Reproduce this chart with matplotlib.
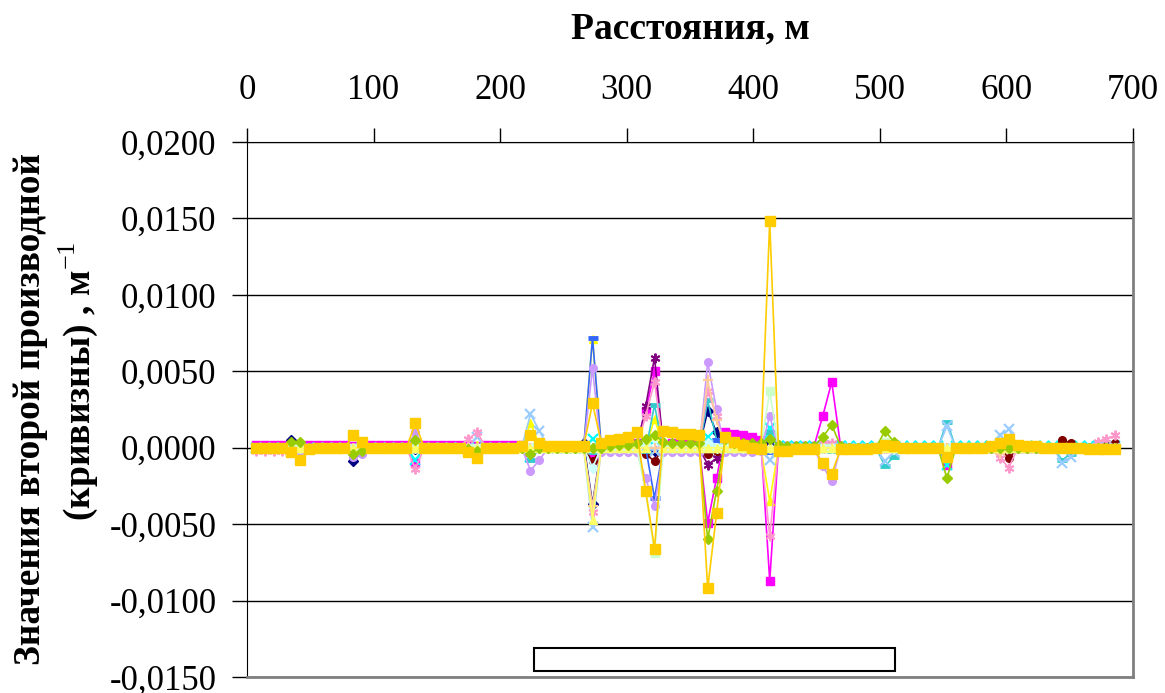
import numpy as np
import matplotlib
matplotlib.use("Agg")
import matplotlib.pyplot as plt
from matplotlib.patches import Rectangle

plt.rcParams['font.family'] = ['Liberation Serif', 'DejaVu Serif']
plt.rcParams['mathtext.fontset'] = 'custom'
plt.rcParams['mathtext.rm'] = 'Liberation Serif'
plt.rcParams['mathtext.bf'] = 'Liberation Serif:bold'

# расстояния вдоль профиля, м (шаг 7 м)
distances = [7 * (i + 1) for i in range(98)]

# значения второй производной, единицы 1e-4 м^-1 (по 14 точек в строке)
s_navy = [1, 1, 1, 1, 5, 2, 1, 1, 1, 1, 1, -9, -2, 1,
          1, 1, 1, 1, -1, 1, 1, 1, 1, 1, 1, 0, 1, 1,
          1, 1, 1, -2, 0, 1, 1, 1, 1, 3, -37, 1, 0, 0,
          0, 0, 0, -2, 0, 0, 0, 0, 0, 24, 10, 0, 0, 0,
          0, 0, 3, 0, 0, 0, 0, 0, 0, 0, 0, 0, 0, 0,
          0, 0, 0, 0, 0, 0, 0, 0, 0, 0, 0, 0, 0, 0,
          0, 0, 0, 0, 0, 0, 0, 0, 0, 0, 0, 0, 0, 0]
s_magenta = [2, 2, 2, 2, 2, 1, 2, 2, 2, 2, 2, 1, 2, 2,
             2, 2, 2, 2, -10, 2, 2, 2, 2, 2, 2, 1, 2, 2,
             2, 2, 2, -3, 1, 1, 1, 1, 1, 1, -5, 1, 2, 3,
             3, 3, 24, 50, 2, 3, 3, 3, 3, -49, -20, 10, 9, 8,
             7, 5, -87, 1, 1, 1, 1, 1, 21, 43, 1, 0, 0, 0,
             0, 0, 0, 0, 0, 0, 0, 0, -11, 0, 0, 0, 0, 0,
             0, 0, 0, 0, 0, 0, 0, 0, 0, 0, 0, 0, 0, 0]
s_yellow = [0, 0, 0, 0, 0, 0, 0, 0, 0, 0, 0, 0, 0, 0,
            0, 0, 0, 0, 0, 0, 0, 0, 0, 0, 0, 2, 0, 0,
            0, 0, 0, 16, 2, 0, 0, 0, 0, 0, 71, 0, 0, 0,
            0, 0, 0, 19, 0, 0, 0, 0, 0, 3, 0, 0, 0, 0,
            0, 0, -35, 0, 0, 0, 0, 0, 0, 0, 0, 0, 0, 0,
            0, 0, 0, 0, 0, 0, 0, 0, 0, 0, 0, 0, 0, 0,
            0, 0, 0, 0, 0, 0, 0, 0, 0, 0, 0, 0, 0, 0]
s_cyan = [0, 0, 0, 0, 0, 0, 0, 0, 0, 0, 0, 0, 0, 0,
          0, 0, 0, 0, -8, 0, 0, 0, 0, 0, 0, 0, 0, 0,
          0, 0, 0, -6, 0, 0, 0, 0, 0, 0, 6, 0, 0, 0,
          0, 0, 0, 5, 0, 0, 0, 0, 0, 7, 0, 0, 0, 0,
          0, 0, 13, 1, 1, 1, 1, 1, 1, 1, 1, 1, 1, 1,
          1, 1, 1, 1, 1, 1, 1, 1, -11, 1, 1, 1, 1, 1,
          1, 1, 1, 1, 1, 1, 1, 1, 1, 1, 1, 1, 1, 1]
s_purple = [0, 0, 0, 0, 0, 0, 0, 0, 0, 0, 0, 0, 0, 0,
            0, 0, 0, 0, 0, 0, 0, 0, 0, 0, 0, 0, 0, 0,
            0, 0, 0, 0, 0, 0, 0, 0, 0, 0, 0, 0, 0, 0,
            0, 0, 27, 59, 0, 0, 0, 0, 0, -11, -7, 0, 0, 0,
            0, 0, 0, 0, 0, 0, 0, 0, 0, 0, 0, 0, 0, 0,
            0, 0, 0, 0, 0, 0, 0, 0, 0, 0, 0, 0, 0, 0,
            0, 0, 0, 0, 0, 0, 0, 0, 0, 0, 0, 0, 0, 0]
s_maroon = [0, 0, 0, 0, 0, 0, 0, 0, 0, 0, 0, 0, 0, 0,
            0, 0, 0, 0, 0, 0, 0, 0, 0, 0, 0, 0, 0, 0,
            0, 0, 0, 0, 0, 0, 0, 0, 0, 0, -9, 0, 0, 0,
            0, 0, -4, -9, 0, 0, 0, 0, 0, -4, -2, 0, 0, 0,
            0, 0, 0, 0, 0, 0, 0, 0, 0, 0, 0, 0, 0, 0,
            0, 0, 0, 0, 0, 0, 0, 0, 0, 0, 0, 0, 0, 0,
            0, -7, 0, 0, 0, 0, 0, 5, 3, 0, 0, 1, 1, 3]
s_teal = [0, 0, 0, 0, 0, -1, 0, 0, 0, 0, 0, 0, 0, 0,
          0, 0, 0, 0, 2, 0, 0, 0, 0, 0, 0, 0, 0, 0,
          0, 0, 0, -8, -1, -1, -1, -1, -1, -1, -3, -2, -2, -2,
          -2, -2, -2, 28, -2, -2, -2, -2, -2, 31, 5, -2, -2, -2,
          -2, -2, 10, -1, -1, -1, -1, -1, -1, -2, 0, 0, 0, 0,
          0, -12, -6, 0, 0, 0, 0, 0, 17, 0, 0, 0, 0, 0,
          0, 2, 0, 0, 0, 0, 0, -8, -4, 0, 0, 0, 0, 0]
s_blue = [0, 0, 0, 0, 0, 0, 0, 0, 0, 0, 0, 0, 0, 0,
          0, 0, 0, 0, 0, 0, 0, 0, 0, 0, 0, 0, 0, 0,
          0, 0, 0, -3, 0, 0, 0, 0, 0, 0, 72, 0, 0, 0,
          0, 0, 0, -33, 0, -1, -1, -1, -1, 0, 5, -1, -1, -1,
          -1, -1, -3, 0, 0, 0, 0, 0, 0, 0, 0, 0, 0, 0,
          0, 2, 0, 0, 0, 0, 0, 0, 1, 0, 0, 0, 0, 0,
          0, 0, 0, 0, 0, 0, 0, 0, 0, 0, 0, 0, 0, 0]
s_lightblue = [0, 0, 0, 0, 0, 0, 0, 0, 0, 0, 0, 0, 0, 0,
               0, 0, 0, 0, 0, 0, 0, 0, 0, 0, 0, 7, 0, 0,
               0, 0, 0, 22, 11, 0, 0, 0, 0, 0, -52, 0, 0, 0,
               0, 0, 0, -2, 0, 0, 0, 0, 0, 2, 0, 0, 0, 0,
               0, 0, -8, 0, 0, 0, 0, 0, 0, 0, 0, 0, 0, 0,
               0, -9, -3, 0, 0, 0, 0, 0, 14, 0, 0, 0, 0, 0,
               8, 12, 0, 0, 0, 0, 0, -10, -6, 0, 0, 0, 0, 0]
s_pink = [-2, -2, -2, -2, -1, -1, -1, 0, 0, 0, 0, 0, 0, 0,
          0, 0, 0, 0, -14, 0, 0, 0, 0, 0, 6, 10, 0, 0,
          0, 0, 0, 0, 0, 0, 0, 0, 0, 0, -42, 0, 0, 0,
          0, 0, 21, 43, 0, 0, 0, 0, 0, 37, 21, 0, 0, 0,
          0, 0, -58, 0, 0, 0, 0, 0, 3, 3, 0, 0, 0, 0,
          0, 0, 0, 0, 0, 0, 0, 0, 0, 0, 0, 0, 0, 0,
          -7, -13, 0, 0, 0, 0, 0, 0, 0, 0, 0, 4, 6, 8]
s_lilac = [0, 0, 0, 0, -1, -2, 0, 0, 0, 0, 0, -6, -4, 0,
           0, 0, 0, 0, 10, 0, 0, 0, 0, 0, 0, 0, 0, 0,
           0, 0, 0, -15, -8, 0, 0, 0, 0, 0, 52, -3, -3, -3,
           -3, -3, -20, -38, -3, -3, -3, -3, -3, 56, 25, -3, -3, -3,
           -3, -2, 21, -1, -1, -1, -1, -1, -12, -22, 0, 0, 0, 0,
           0, 0, 0, 0, 0, 0, 0, 0, 0, 0, 0, 0, 0, 0,
           0, 0, 0, 0, 0, 0, 0, 0, 0, 0, 0, 0, 0, 0]
s_lightgreen = [0, 0, 0, 0, 0, 0, 0, 0, 0, 0, 0, 0, 0, 0,
                0, 0, 0, 0, 0, 0, 0, 0, 0, 0, 0, 0, 0, 0,
                0, 0, 0, 0, 0, 0, 0, 0, 0, 0, 0, 0, 0, 0,
                0, 0, -29, -69, 0, 0, 0, 0, 0, 0, 0, 0, 0, 0,
                0, 0, 37, 0, 0, 0, 0, 0, 0, 0, 0, 0, 0, 0,
                0, 4, 0, 0, 0, 0, 0, 0, 0, 0, 0, 0, 0, 0,
                0, 0, 0, 0, 0, 0, 0, 0, 0, 0, 0, 0, 0, 0]
s_lightcyan = [0, 0, 0, 0, 0, 0, 0, 0, 0, 0, 0, 0, 0, 0,
               0, 0, 0, 0, 0, 0, 0, 0, 0, 0, 0, 0, 0, 0,
               0, 0, 0, 0, 0, 0, 0, 0, 0, 0, -13, 0, 0, 0,
               0, 0, 2, 6, 0, 0, 0, 0, 0, 3, 0, 0, 0, 0,
               0, 0, 0, 0, 0, 0, 0, 0, 0, 0, 0, 0, 0, 0,
               0, 0, 0, 0, 0, 0, 0, 0, 0, 0, 0, 0, 0, 0,
               0, 0, 0, 0, 0, 0, 0, 0, 0, 0, 0, 0, 0, 0]
s_peach = [0, 0, 0, 0, 0, 0, 0, 0, 0, 0, 0, 0, 0, 0,
           0, 0, 0, 0, 0, 0, 0, 0, 0, 0, 0, 0, 0, 0,
           0, 0, 0, 0, 0, 0, 0, 0, 0, 0, -38, 0, 0, 0,
           0, 0, 0, 0, 0, 0, 0, 0, 0, 44, 18, 0, 0, 0,
           0, 0, 0, 0, 0, 0, 0, 0, 0, 0, 0, 0, 0, 0,
           0, 0, 0, 0, 0, 0, 0, 0, 0, 0, 0, 0, 0, 0,
           -4, 0, 0, 0, 0, 0, 0, 0, 0, 0, 0, 0, 0, 0]
s_paleyellow = [0, 0, 0, 0, 0, 0, 0, 0, 0, 0, 0, 0, 0, 0,
                0, 0, 0, 0, 0, 0, 0, 0, 0, 0, 0, 0, 0, 0,
                0, 0, 0, 0, 0, 0, 0, 0, 0, 0, -47, 0, 0, 0,
                0, 0, 0, 8, 0, 0, 0, 0, 0, 0, 0, 0, 0, 0,
                0, 0, 0, 0, 0, 0, 0, 0, 0, 0, 0, 0, 0, 0,
                0, 0, 0, 0, 0, 0, 0, 0, 0, 0, 0, 0, 0, 0,
                0, 0, 0, 0, 0, 0, 0, 0, 0, 0, 0, 0, 0, 0]
s_green = [0, 0, 0, 0, 4, 4, 0, 0, 0, 0, 0, -4, -2, 0,
           0, 0, 0, 0, 5, 0, 0, 0, 0, 0, -1, -2, 0, 0,
           0, 0, 0, -4, 0, 0, 0, 0, 0, 0, 0, 0, 1, 2,
           2, 3, 6, 8, 4, 3, 3, 3, 3, -60, -28, 6, 3, 3,
           3, 3, 6, 2, 1, 1, 1, 1, 7, 15, 1, 0, 0, 0,
           0, 11, 4, 0, 0, 0, 0, 0, -20, 0, 0, 0, 0, 0,
           0, 0, 0, 0, 0, 0, 0, 0, 0, 0, 0, 0, 0, 0]
s_gold = [0, 0, 0, 0, -3, -8, -1, 0, 0, 0, 0, 8, 4, 0,
          0, 0, 0, 0, 16, 0, 0, 0, 0, 0, -3, -7, 0, 0,
          0, 0, 1, 8, 3, 1, 1, 1, 1, 1, 29, 3, 5, 6,
          7, 10, -28, -66, 11, 10, 9, 9, 8, -92, -43, 7, 4, 2,
          0, -1, 148, -2, -2, -1, -1, -1, -10, -17, -1, -1, -1, -1,
          0, 2, 1, 0, 0, 0, 0, 0, -6, 0, 0, 0, 0, 1,
          3, 6, 2, 1, 1, 0, 0, 0, 0, 0, -1, -1, -1, -1]

# порядок отрисовки как в Excel: последний ряд сверху
series = [
    (s_navy, '#000080', 'D'),
    (s_magenta, '#FF00FF', 's'),
    (s_yellow, '#FFFF00', '^'),
    (s_cyan, '#00FFFF', 'x'),
    (s_purple, '#800080', 'star'),
    (s_maroon, '#800000', 'o'),
    (s_teal, '#33CCCC', '_'),
    (s_blue, '#3366FF', '_'),
    (s_lightblue, '#99CCFF', 'x'),
    (s_pink, '#FF99CC', 'star'),
    (s_lilac, '#CC99FF', 'o'),
    (s_lightgreen, '#CCFFCC', 's'),
    (s_lightcyan, '#CCFFFF', 'D'),
    (s_peach, '#FFCC99', '+'),
    (s_paleyellow, '#FFFF66', '^'),
    (s_green, '#99CC00', 'D'),
    (s_gold, '#FFCC00', 's'),
]

yticks = [-0.015, -0.010, -0.005, 0.0, 0.005, 0.010, 0.015, 0.020]
ytick_labels = ['-0,0150', '-0,0100', '-0,0050', '0,0000',
                '0,0050', '0,0100', '0,0150', '0,0200']
xticks = [0, 100, 200, 300, 400, 500, 600, 700]

fig = plt.figure(figsize=(11.65, 6.93), dpi=100)
ax = fig.add_axes([0.212, 0.0231, 0.7605, 0.772])

x = np.array(distances)
for vals, color, mk in series:
    y = np.array(vals) * 1e-4
    kw = dict(color=color, lw=1.2, markerfacecolor=color,
              markeredgecolor=color, zorder=2)
    if mk == 'star':
        ax.plot(x, y, marker=(6, 2, 0), ms=7, mew=1.4, **kw)
    elif mk in ('x', '+'):
        ax.plot(x, y, marker=mk, ms=7, mew=1.6, **kw)
    elif mk == '_':
        ax.plot(x, y, marker=mk, ms=7, mew=3.5, **kw)
    elif mk == 's' and color == '#FFCC00':
        ax.plot(x, y, marker=mk, ms=7.5, **kw)
    else:
        ax.plot(x, y, marker=mk, ms=5.5, **kw)

# прямоугольник внизу графика
ax.add_patch(Rectangle((227, -0.0146), 285, 0.0015, facecolor='white',
                       edgecolor='black', lw=1.5, zorder=3))

ax.set_xlim(0, 700)
ax.set_ylim(-0.015, 0.020)
ax.xaxis.tick_top()
ax.xaxis.set_label_position('top')
ax.set_xticks(xticks)
ax.set_yticks(yticks)
ax.set_yticklabels(ytick_labels)
ax.tick_params(axis='x', direction='out', length=10, width=1, labelsize=25, pad=15)
ax.tick_params(axis='y', direction='out', length=11, width=1, labelsize=25, pad=11)

ax.grid(axis='y', color='black', lw=1)
ax.grid(axis='x', visible=False)
ax.set_axisbelow(True)

ax.spines['top'].set_color('black')
ax.spines['left'].set_color('black')
ax.spines['right'].set_color('#808080')
ax.spines['bottom'].set_color('#808080')
ax.spines['right'].set_linewidth(2)
ax.spines['bottom'].set_linewidth(2)

ax.set_xlabel('Расстояния, м', fontsize=27, fontweight='bold', labelpad=26)
ax.set_ylabel('Значения второй производной\n      (кривизны) , м$^{-1}$',
              fontsize=27, fontweight='bold', linespacing=1.25, va='center')
ax.yaxis.set_label_coords(-0.215, 0.5)

fig.savefig('out.png', dpi=100)
